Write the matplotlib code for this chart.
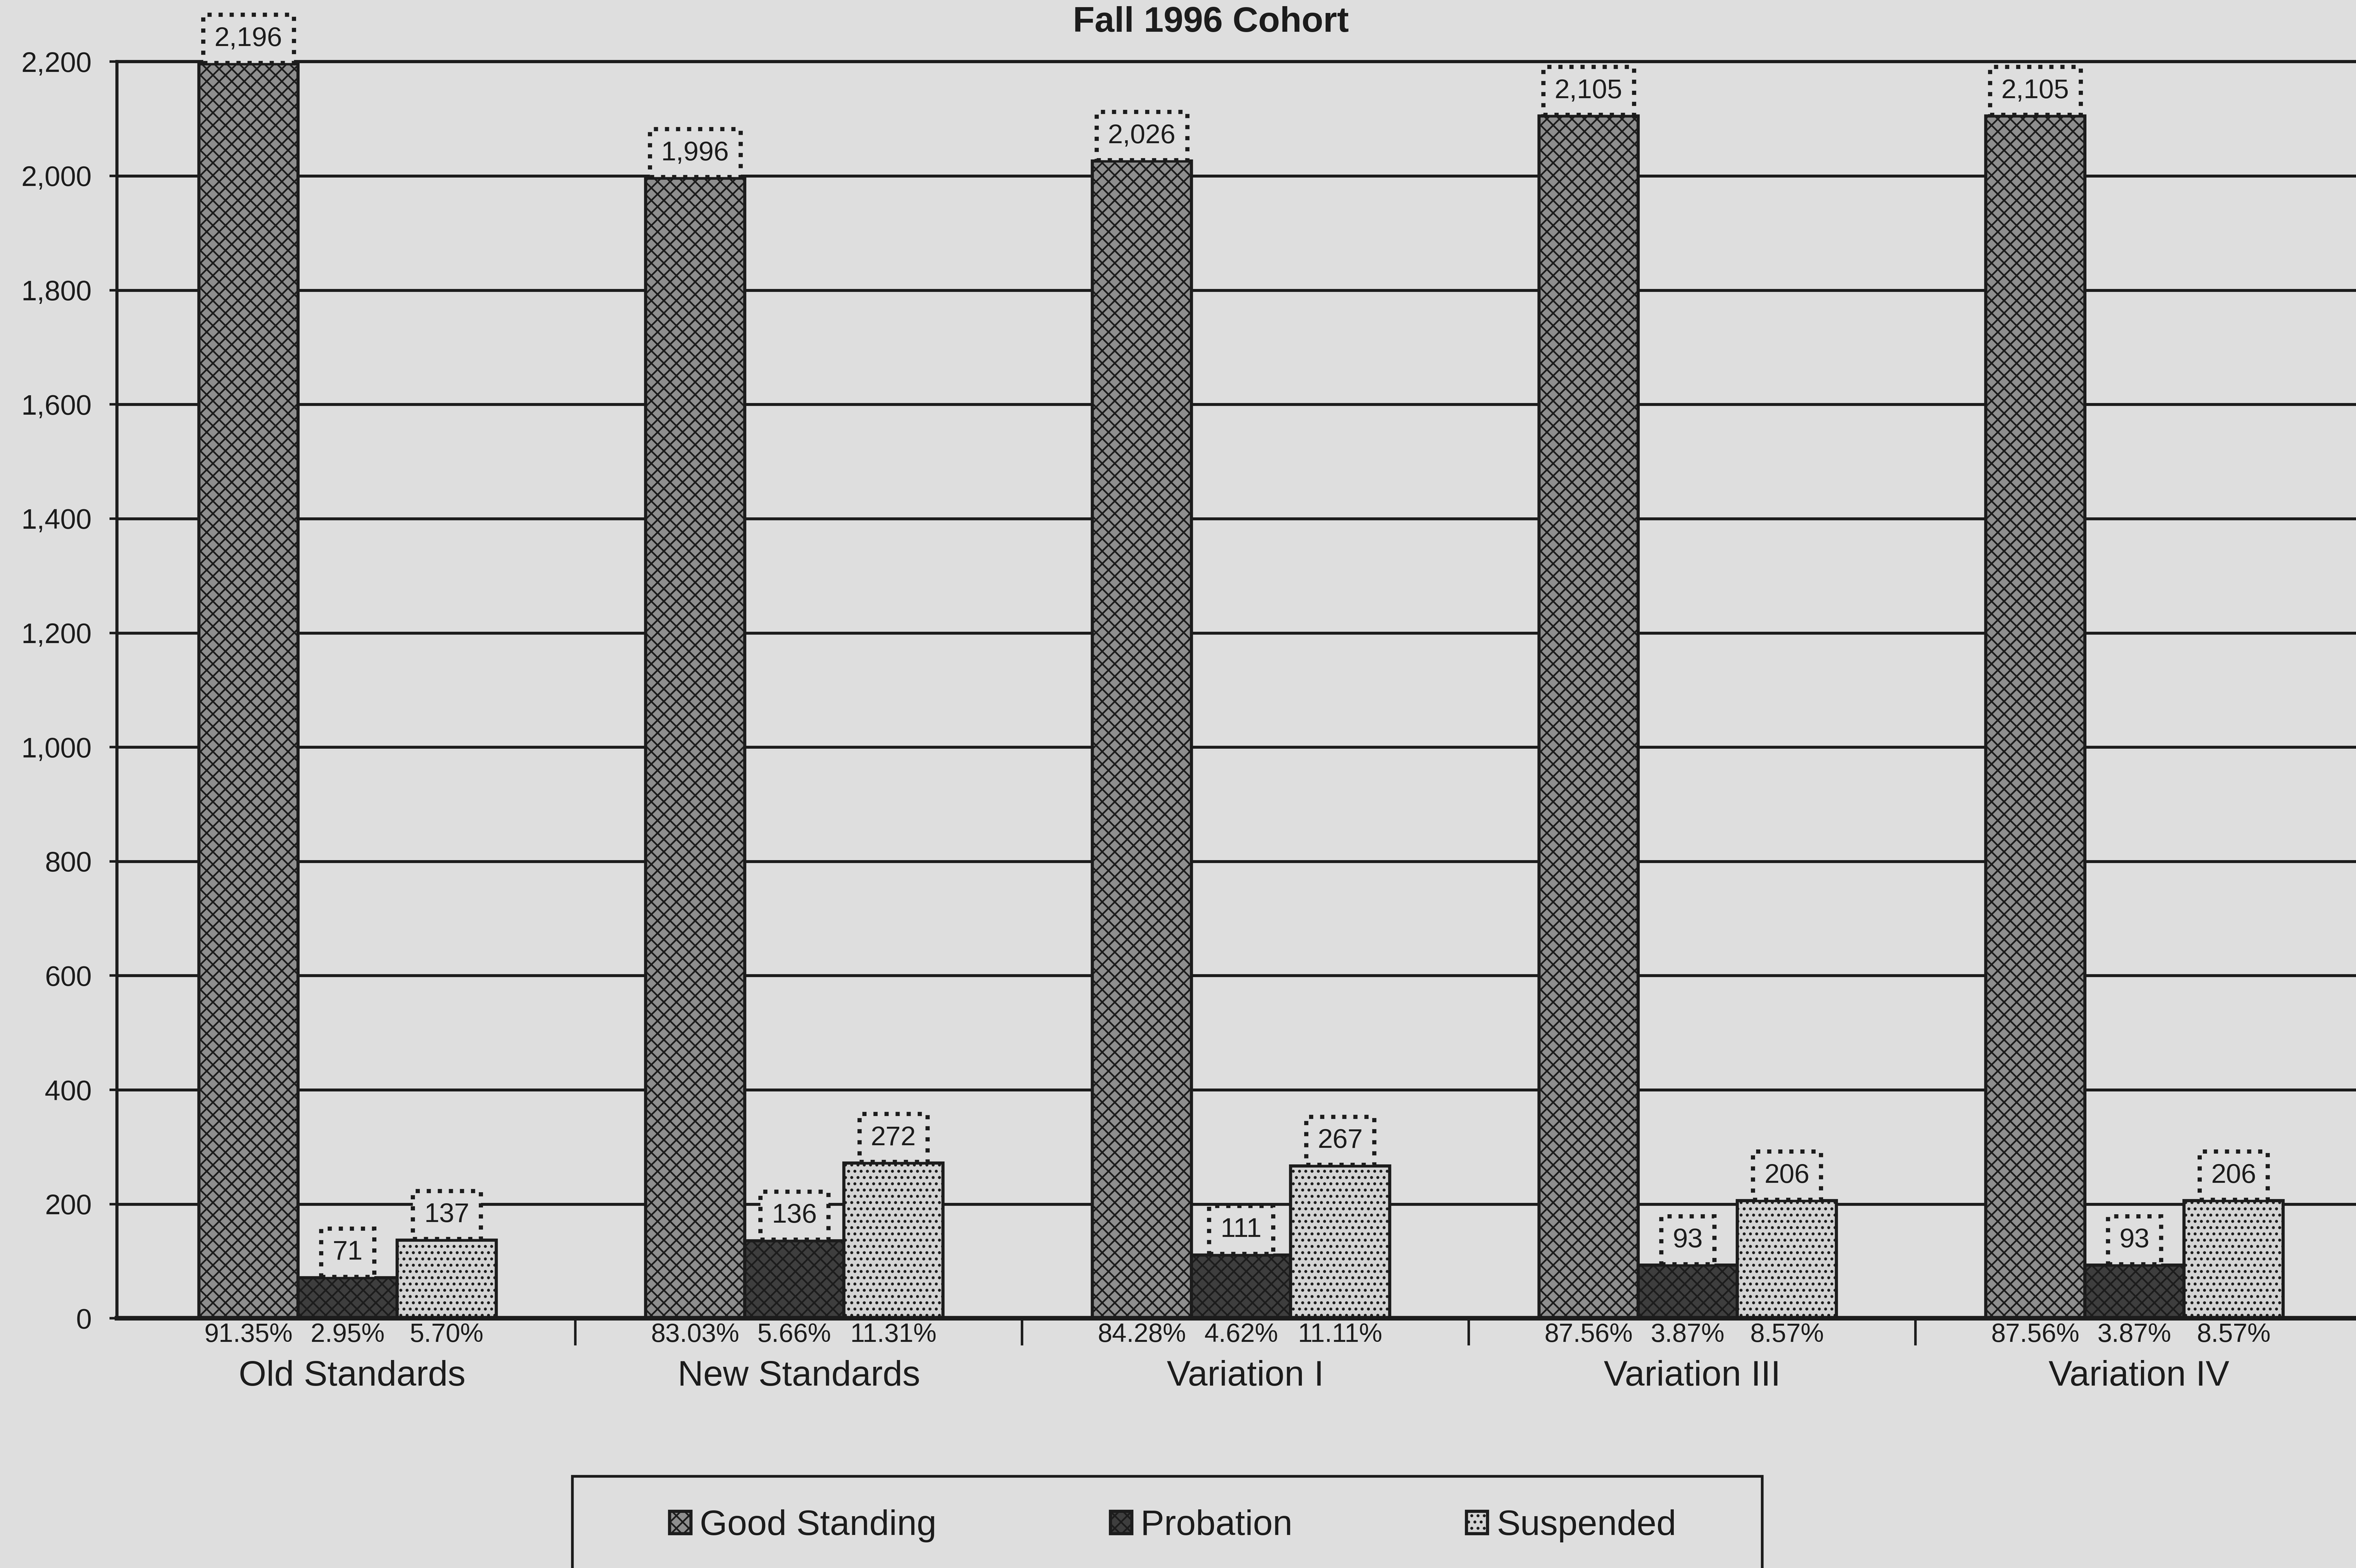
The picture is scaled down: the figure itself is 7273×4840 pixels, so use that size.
import matplotlib
matplotlib.use("Agg")
import matplotlib.pyplot as plt
from matplotlib.patches import Rectangle
from matplotlib.ticker import FuncFormatter, FixedLocator
import numpy as np

plt.rcParams['font.family'] = ['Liberation Sans', 'DejaVu Sans']
plt.rcParams['hatch.linewidth'] = 0.8

# data
groups = ["Old Standards", "New Standards", "Variation I", "Variation III", "Variation IV"]
series = ["Good Standing", "Probation", "Suspended"]
good_standing = [2196, 1996, 2026, 2105, 2105]
probation = [71, 136, 111, 93, 93]
suspended = [137, 272, 267, 206, 206]
pct_good = ["91.35%", "83.03%", "84.28%", "87.56%", "87.56%"]
pct_prob = ["2.95%", "5.66%", "4.62%", "3.87%", "3.87%"]
pct_susp = ["5.70%", "11.31%", "11.11%", "8.57%", "8.57%"]
title = "Fall 1996 Cohort"

bg = '#dedede'
ink = '#1c1c1c'

fig = plt.figure(figsize=(7273 / 464, 4840 / 464), dpi=464)
fig.patch.set_facecolor(bg)
ax = fig.add_axes([0.0497, 0.1592, 0.9503, 0.8015])
ax.set_facecolor(bg)

x = np.arange(len(groups))
w = 0.222

# the three bar series, textured like the old printout
styles = [
    dict(facecolor='#8e8e8e', hatch='xxxx'),
    dict(facecolor='#3e3e3e', hatch='xxxx'),
    dict(facecolor='#d4d4d4', hatch='....'),
]
values = [good_standing, probation, suspended]
pcts = [pct_good, pct_prob, pct_susp]
bars = []
for i, (vals, st) in enumerate(zip(values, styles)):
    xs = x + (i - 1) * w - 0.01
    b = ax.bar(xs, vals, w, edgecolor=ink, linewidth=1.5,
               label=series[i], zorder=2, **st)
    bars.append(b)

    # value boxes above each bar
    for xi, v in zip(xs, vals):
        ax.annotate(f"{v:,}", xy=(xi, v), xytext=(0, 6), textcoords='offset points',
                    ha='center', va='bottom', fontsize=13, color=ink, zorder=4,
                    bbox=dict(boxstyle='square,pad=0.42', fc=bg, ec=ink, ls=':', lw=2))

    # percentages written under the bars
    for xi, p in zip(xs, pcts[i]):
        ax.annotate(p, xy=(xi, 0), xytext=(0, -8), textcoords='offset points',
                    ha='center', va='center', fontsize=12.5, color=ink,
                    annotation_clip=False)

ax.set_xlim(-0.526, 4.486)
ax.set_ylim(0, 2200)
ax.set_yticks(np.arange(0, 2201, 200))
ax.yaxis.set_major_formatter(FuncFormatter(lambda v, pos: f"{int(v):,}"))
ax.tick_params(axis='y', labelsize=13.5, length=3.6, width=1.2, pad=8.5,
               colors=ink, direction='out')
ax.grid(axis='y', color=ink, linewidth=1.4)
ax.set_axisbelow(True)

ax.set_xticks(x)
ax.set_xticklabels(groups)
ax.tick_params(axis='x', which='major', length=0, pad=20, labelsize=17, labelcolor=ink)
ax.xaxis.set_minor_locator(FixedLocator(x[:-1] + 0.5))
ax.tick_params(axis='x', which='minor', length=13, width=1.2, color=ink, direction='out')

for s in ['left', 'top']:
    ax.spines[s].set_color(ink)
    ax.spines[s].set_linewidth(1.5)
ax.spines['bottom'].set_color(ink)
ax.spines['bottom'].set_linewidth(2.2)
ax.spines['right'].set_visible(False)

fig.text(0.514, 0.9856, title, ha='center', va='center', fontsize=17,
         fontweight='bold', color=ink)

# legend, with its frame running off the bottom of the page
fig.legend(handles=bars, labels=series, loc='center', bbox_to_anchor=(0.4978, 0.0268),
           ncol=3, frameon=False, fontsize=17, handlelength=0.6, handleheight=0.6,
           handletextpad=0.25, columnspacing=4.9, borderpad=0, labelcolor=ink)
fig.patches.append(Rectangle((0.243, -0.02), 0.505, 0.0785, transform=fig.transFigure,
                             fill=False, edgecolor=ink, linewidth=1.3))

fig.savefig("out.png", dpi=464, facecolor=bg)
